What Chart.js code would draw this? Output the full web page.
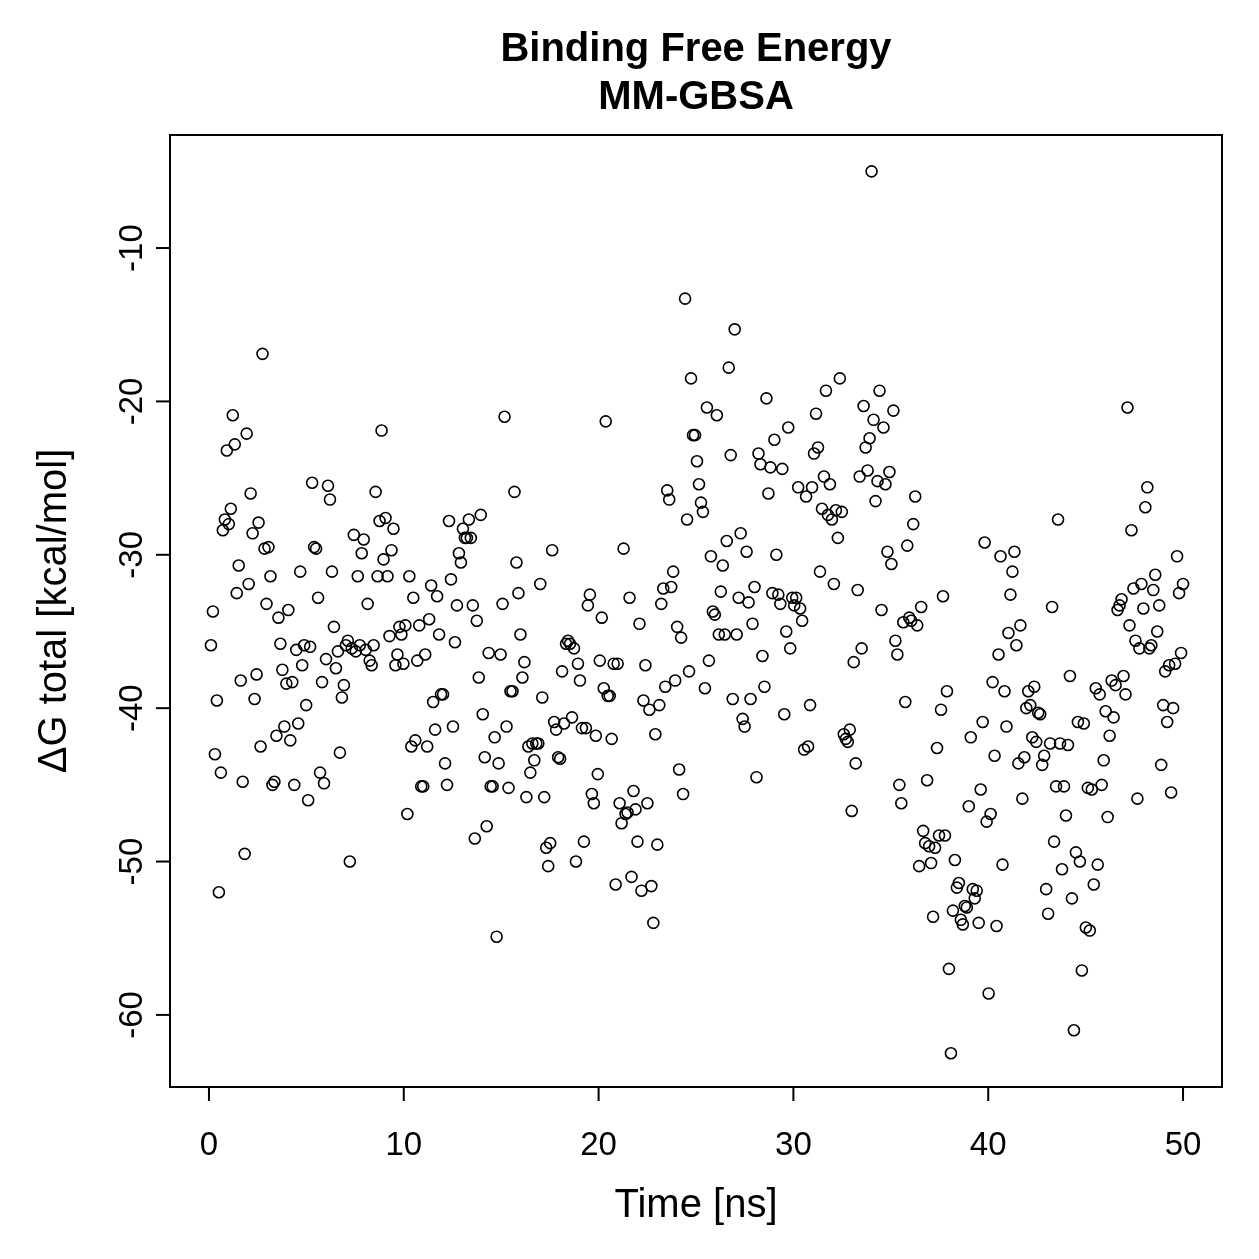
<!DOCTYPE html>
<html>
<head>
<meta charset="utf-8">
<script src="https://cdn.jsdelivr.net/npm/chart.js@4/dist/chart.umd.min.js"></script>
<style>
  html, body { margin: 0; padding: 0; background: #fff; }
  #wrap { width: 1259px; height: 1259px; }
</style>
</head>
<body>
<div id="wrap"><canvas id="scatter_chart" width="1259" height="1259"></canvas></div>
<script>
// dG total per frame (kcal/mol), frames evenly spaced over 0-50 ns
var dgTotal = [
  -35.9, -33.7, -43.0, -39.5, -52.0, -44.2, -28.4, -27.7, -23.2, -28.0,
  -27.0, -20.9, -22.8, -32.5, -30.7, -38.2, -44.8, -49.5, -22.1, -31.9,
  -26.0, -28.6, -39.4, -37.8, -27.9, -42.5, -16.9, -29.6, -33.2, -29.5,
  -31.4, -45.0, -44.8, -41.8, -34.1, -35.8, -37.5, -41.2, -38.4, -33.6,
  -42.1, -38.3, -45.0, -36.2, -41.0, -31.1, -37.2, -35.9, -39.8, -46.0,
  -36.0, -25.3, -29.5, -29.6, -32.8, -44.2, -38.3, -44.9, -36.8, -25.5,
  -26.4, -31.1, -34.7, -37.4, -36.3, -42.9, -39.3, -38.5, -35.9, -35.6,
  -50.0, -36.1, -28.7, -36.3, -31.4, -35.9, -29.9, -29.0, -36.2, -33.2,
  -36.9, -37.2, -35.9, -25.9, -31.4, -27.8, -21.9, -30.3, -27.6, -31.4,
  -35.3, -29.7, -28.3, -37.2, -36.5, -34.7, -35.2, -37.1, -34.6, -46.9,
  -31.4, -42.5, -32.8, -42.1, -36.9, -34.6, -45.1, -45.1, -36.5, -42.5,
  -34.2, -32.0, -39.6, -41.4, -32.7, -35.2, -39.1, -39.1, -43.6, -45.0,
  -27.8, -31.6, -41.2, -35.7, -33.3, -29.9, -30.5, -28.3, -28.9, -28.9,
  -27.7, -28.9, -33.3, -48.5, -34.3, -38.0, -27.4, -40.4, -43.2, -47.7,
  -36.4, -45.1, -45.1, -41.9, -54.9, -43.6, -36.5, -33.2, -21.0, -41.2,
  -45.2, -38.9, -38.9, -25.9, -30.5, -32.5, -35.2, -38.0, -37.0, -45.8,
  -42.5, -44.2, -42.3, -43.4, -42.3, -42.3, -31.9, -39.3, -45.8, -49.1,
  -50.3, -48.8, -29.7, -40.9, -41.4, -43.2, -43.3, -37.6, -41.0, -35.8,
  -35.6, -35.8, -40.6, -36.1, -50.0, -37.1, -38.2, -41.3, -48.7, -41.3,
  -33.3, -32.6, -45.6, -46.2, -41.8, -44.3, -36.9, -34.1, -38.7, -21.3,
  -39.2, -39.2, -42.0, -37.1, -51.5, -37.1, -46.2, -47.5, -29.6, -46.9,
  -46.8, -32.8, -51.0, -45.4, -46.6, -48.7, -34.5, -51.9, -39.5, -37.2,
  -46.2, -40.1, -51.6, -54.0, -41.7, -48.9, -39.8, -33.2, -32.2, -38.6,
  -25.8, -26.4, -32.1, -31.1, -38.2, -34.7, -44.0, -35.4, -45.6, -13.3,
  -27.7, -37.6, -18.5, -22.2, -22.2, -23.9, -25.4, -26.6, -27.2, -38.7,
  -20.4, -36.9, -30.1, -33.7, -33.9, -20.9, -35.2, -32.4, -30.7, -35.2,
  -29.1, -17.8, -23.5, -39.4, -15.3, -35.2, -32.8, -28.6, -40.7, -41.2,
  -29.8, -33.1, -39.4, -34.5, -32.1, -44.5, -23.4, -24.1, -36.6, -38.6,
  -19.8, -26.0, -24.3, -32.5, -22.5, -30.0, -32.6, -33.2, -24.4, -40.4,
  -35.0, -21.7, -36.1, -32.8, -33.3, -32.8, -25.6, -33.5, -34.3, -42.7,
  -26.2, -42.5, -39.8, -25.6, -23.4, -20.8, -23.0, -31.1, -27.0, -24.9,
  -19.3, -27.4, -25.4, -27.7, -31.9, -27.1, -28.9, -18.5, -27.2, -41.7,
  -42.0, -42.2, -41.4, -46.7, -37.0, -43.6, -32.3, -24.9, -36.1, -20.3,
  -23.0, -24.5, -22.4, -5.0, -21.2, -26.5, -25.2, -19.3, -33.6, -21.7,
  -25.4, -29.8, -24.6, -30.6, -20.6, -35.6, -36.5, -45.0, -46.2, -34.4,
  -39.6, -29.4, -34.1, -34.3, -28.0, -26.2, -34.6, -50.3, -33.4, -48.0,
  -48.8, -44.7, -49.0, -50.1, -53.6, -49.1, -42.6, -48.3, -40.1, -32.7,
  -48.3, -38.9, -57.0, -62.5, -53.2, -49.9, -51.7, -51.4, -53.8, -54.1,
  -52.9, -53.0, -46.4, -41.9, -51.8, -52.4, -51.9, -54.0, -45.3, -40.9,
  -29.2, -47.4, -58.6, -46.9, -38.3, -43.1, -54.2, -36.5, -30.1, -50.2,
  -38.9, -41.2, -35.1, -32.6, -31.1, -29.8, -35.9, -43.6, -34.6, -45.9,
  -43.2, -40.0, -38.9, -39.8, -41.9, -38.6, -42.2, -40.3, -40.4, -43.7,
  -43.1, -51.8, -53.4, -42.3, -33.4, -48.7, -45.1, -27.7, -42.3, -50.5,
  -45.1, -47.0, -42.4, -37.9, -52.4, -61.0, -49.4, -40.9, -50.0, -57.1,
  -41.0, -54.3, -45.2, -54.5, -45.3, -51.5, -38.7, -50.2, -39.1, -45.0,
  -43.4, -40.2, -47.1, -41.8, -38.2, -40.6, -38.5, -33.6, -33.3, -32.9,
  -37.9, -39.1, -20.4, -34.6, -28.4, -32.2, -35.6, -45.9, -36.1, -31.9,
  -33.5, -26.9, -25.6, -36.1, -35.9, -32.3, -31.3, -35.0, -33.3, -43.7,
  -39.8, -37.6, -40.9, -37.2, -45.5, -40.0, -37.1, -30.1, -32.5, -36.4,
  -31.9
];
var simLength = 50; // ns
var xTicks = [0, 10, 20, 30, 40, 50];
var yTicks = [-60, -50, -40, -30, -20, -10];
var titleLines = ["Binding Free Energy", "MM-GBSA"];
var xTitle = "Time [ns]";
var yTitle = "\u0394G total [kcal/mol]";

var points = dgTotal.map(function (v, i) {
    return { x: (i + 1) * simLength / dgTotal.length, y: v };
});

var FONT = '"Liberation Sans", Arial, Helvetica, sans-serif';

// base-R style axes, box and labels
var rAxes = {
    id: 'rAxes',
    afterDraw: function (chart) {
        var ctx = chart.ctx;
        var a = chart.chartArea;
        var xs = chart.scales.x;
        var ys = chart.scales.y;
        ctx.save();
        ctx.strokeStyle = '#000';
        ctx.fillStyle = '#000';
        ctx.lineWidth = 2;
        ctx.strokeRect(a.left, a.top, a.right - a.left, a.bottom - a.top);

        // x axis
        ctx.font = '33px ' + FONT;
        ctx.textAlign = 'center';
        ctx.textBaseline = 'alphabetic';
        xTicks.forEach(function (t) {
            var px = xs.getPixelForValue(t);
            ctx.beginPath();
            ctx.moveTo(px, a.bottom);
            ctx.lineTo(px, a.bottom + 14);
            ctx.stroke();
            ctx.fillText(String(t), px, 1155);
        });
        // y axis
        yTicks.forEach(function (t) {
            var py = ys.getPixelForValue(t);
            ctx.beginPath();
            ctx.moveTo(a.left, py);
            ctx.lineTo(a.left - 14, py);
            ctx.stroke();
            ctx.save();
            ctx.translate(142, py);
            ctx.rotate(-Math.PI / 2);
            ctx.fillText(String(t), 0, 0);
            ctx.restore();
        });

        // axis titles
        var cx = (a.left + a.right) / 2;
        ctx.font = '40px ' + FONT;
        ctx.fillText(xTitle, cx, 1217);
        ctx.save();
        ctx.translate(66, (a.top + a.bottom) / 2);
        ctx.rotate(-Math.PI / 2);
        ctx.fillText(yTitle, 0, 0);
        ctx.restore();

        // main title
        ctx.font = 'bold 40px ' + FONT;
        ctx.fillText(titleLines[0], cx, 61);
        ctx.fillText(titleLines[1], cx, 109);
        ctx.restore();
    }
};

new Chart(document.getElementById('scatter_chart').getContext('2d'), {
    type: 'scatter',
    data: {
        datasets: [{
            label: 'dG total',
            data: points,
            pointStyle: 'circle',
            pointRadius: 5.5,
            pointBorderWidth: 1.6,
            borderColor: '#000',
            backgroundColor: 'rgba(0,0,0,0)'
        }]
    },
    options: {
        responsive: false,
        animation: false,
        layout: { padding: { left: 170, top: 135, right: 37, bottom: 172 } },
        plugins: {
            legend: { display: false },
            tooltip: { enabled: false },
            title: { display: false }
        },
        scales: {
            x: { type: 'linear', min: -2, max: 52, display: false },
            y: { type: 'linear', min: -64.7, max: -2.63, display: false }
        }
    },
    plugins: [rAxes]
});
</script>
</body>
</html>
